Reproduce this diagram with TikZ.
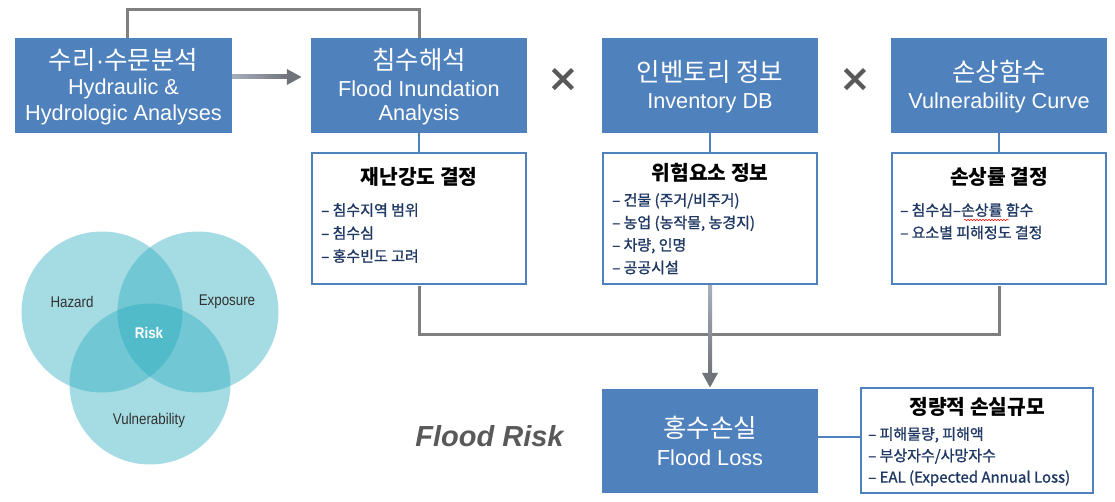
\documentclass[tikz,border=0pt]{standalone}
\usepackage{fontspec}
\setmainfont{Liberation Sans}
\newfontfamily\kr{Noto Sans CJK KR}
\newfontfamily\krm[FakeBold=1.2]{Noto Sans CJK KR}
\newfontfamily\venfont[FakeStretch=0.86]{Liberation Sans}
\newfontfamily\dejav{DejaVu Sans}
\newfontfamily\libs{Liberation Sans}
\usetikzlibrary{arrows.meta,calc,decorations.pathmorphing}
\definecolor{boxblue}{RGB}{79,129,189}
\definecolor{navy}{RGB}{31,56,100}
\definecolor{linegray}{RGB}{127,127,127}
\definecolor{xgray}{RGB}{89,89,89}
\definecolor{arrowdark}{RGB}{112,115,122}
\definecolor{arrowlight}{RGB}{168,175,188}
\definecolor{vennteal}{RGB}{40,170,188}
\definecolor{venntext}{RGB}{50,50,50}
\begin{document}
\begin{tikzpicture}[x=1pt,y=-1pt,
  bluebox/.style={fill=boxblue, draw=none, minimum width=217pt, minimum height=95pt, inner sep=0pt},
  whitebox/.style={fill=white, draw=boxblue, line width=2pt, minimum width=214pt, minimum height=131pt, inner sep=0pt},
  krtitle/.style={text=white, inner sep=0pt, font=\kr\fontsize{25.5}{25.5}\selectfont},
  entext/.style={text=white, inner sep=0pt, font=\fontsize{21.7}{21.7}\selectfont},
  wtitle/.style={text=black, inner sep=0pt, font=\kr\bfseries\fontsize{20.3}{20.3}\selectfont},
  items/.style={text=navy, inner sep=0pt, align=left, anchor=north west, font=\krm\fontsize{15}{23}\selectfont},
  gline/.style={draw=linegray, line width=3pt},
  thinblue/.style={draw=boxblue, line width=1.3pt},
  garrow/.style={draw=arrowdark, line width=4pt, -{Triangle[length=15pt,width=15pt]}},
  xmark/.style={text=xgray, inner sep=0pt, font=\dejav\bfseries\fontsize{38}{38}\selectfont},
  venn/.style={fill=vennteal, fill opacity=0.42, draw=none},
  vlabel/.style={text=venntext, inner sep=0pt, font=\venfont\fontsize{15.5}{15.5}\selectfont}
]
\useasboundingbox (0,0) rectangle (1115,502);

% Venn diagram
\fill[venn] (102,312) circle[radius=80.5pt];
\fill[venn] (198,312) circle[radius=80.5pt];
\fill[venn] (150,384) circle[radius=80.5pt];
\node[vlabel] (hz) at (72,302) {Hazard};
\node[vlabel] (ex) at (227,302) {Exposure};
\node[vlabel, text=white, font=\venfont\bfseries\fontsize{15.5}{15.5}\selectfont] (rk) at (149,333) {Risk};
\node[vlabel] (vu) at (149,420) {Vulnerability};

% blue boxes
\node[bluebox] (hyd) at (123.5,85.5) {};
\node[krtitle] (hydK) at ($(hyd)+(0,-25.5)$) {수리{\libs·}수문분석};
\node[entext] (hydE1) at ($(hyd)+(0,3.5)$) {Hydraulic \&};
\node[entext] (hydE2) at ($(hyd)+(0,29.5)$) {Hydrologic Analyses};

\node[bluebox, minimum width=216pt] (fia) at (419,85.5) {};
\node[krtitle] (fiaK) at ($(fia)+(0,-25.5)$) {침수해석};
\node[entext] (fiaE1) at ($(fia)+(0,3.5)$) {Flood Inundation};
\node[entext] (fiaE2) at ($(fia)+(0,29.5)$) {Analysis};

\node[bluebox, minimum width=216pt] (inv) at (710,85.5) {};
\node[krtitle] (invK) at ($(inv)+(0,-13.5)$) {인벤토리 정보};
\node[entext] (invE) at ($(inv)+(0,17.5)$) {Inventory DB};

\node[bluebox, minimum width=216pt] (vul) at (999,85.5) {};
\node[krtitle] (vulK) at ($(vul)+(0,-13.5)$) {손상함수};
\node[entext] (vulE) at ($(vul)+(0,17.5)$) {Vulnerability Curve};

\node[xmark] (x1) at (563,80) {×};
\node[xmark] (x2) at (855,80) {×};

% white boxes
\node[whitebox] (wa) at (419,218.5) {};
\node[wtitle] (waT) at (419,177) {재난강도 결정};
\node[items] (waI) at (321,203) {– 침수지역 범위\\– 침수심\\– 홍수빈도 고려};

\node[whitebox] (wb) at (710,218.5) {};
\node[wtitle] (wbT) at (710,173) {위험요소 정보};
\node[items, font=\krm\fontsize{15}{22.5}\selectfont] (wbI) at (612,193) {– 건물 (주거/비주거)\\– 농업 (농작물, 농경지)\\– 차량, 인명\\– 공공시설};

\node[whitebox] (wc) at (999,218.5) {};
\node[wtitle] (wcT) at (999,177) {손상률 결정};
\node[items, font=\krm\fontsize{15}{22.5}\selectfont] (wcI) at (900,203) {– 침수심–손상률 함수\\– 요소별 피해정도 결정};
\draw[red, line width=0.5pt, decorate, decoration={snake, amplitude=0.7pt, segment length=3pt}] (964,220) -- (1009,220);

% flood loss
\node[bluebox, minimum width=216pt, minimum height=104pt] (fl) at (710,441) {};
\node[krtitle] (flK) at ($(fl)+(0,-13)$) {홍수손실};
\node[entext] (flE) at ($(fl)+(0,17)$) {Flood Loss};

\node[whitebox, minimum width=232pt, minimum height=105pt] (bd) at (977,440.5) {};
\node[wtitle] (bdT) at (977,407) {정량적 손실규모};
\node[items, font=\krm\fontsize{15}{21.5}\selectfont] (bdI) at (868,427) {– 피해물량, 피해액\\– 부상자수/사망자수\\– EAL (Expected Annual Loss)};

\node[text=xgray, inner sep=0pt, font=\fontsize{29}{29}\selectfont\bfseries\itshape] (fr) at (489.5,436) {Flood Risk};

% connectors
\coordinate (toprow) at (0,9.5);
\draw[gline] ([xshift=3.5pt]hyd.north) |- (toprow -| fia.north) -- (fia.north);

\draw[garrow] ([yshift=8.5pt]hyd.east) -- ([yshift=8.5pt,xshift=-9pt]fia.west);
\shade[left color=arrowlight, right color=arrowdark] ([yshift=10.5pt]hyd.east) rectangle ([yshift=6.5pt,xshift=-23pt]fia.west);

\draw[thinblue] (fia.south) -- (wa.north);
\draw[thinblue] (inv.south) -- (wb.north);
\draw[thinblue] (vul.south) -- (wc.north);

\draw[gline] ([yshift=-1pt]wa.south) -- ++(0,48) -| ([yshift=-1pt]wc.south);

\draw[garrow] ([yshift=-1pt]wb.south) -- ([yshift=1pt]fl.north);
\shade[top color=arrowlight, bottom color=arrowdark] ([xshift=-2pt,yshift=-1pt]wb.south) rectangle ([xshift=2pt,yshift=14pt]fl.north);

\draw[thinblue] ([yshift=4pt]fl.east) -- ([yshift=4pt]fl.east -| bd.west);
\end{tikzpicture}
\end{document}
